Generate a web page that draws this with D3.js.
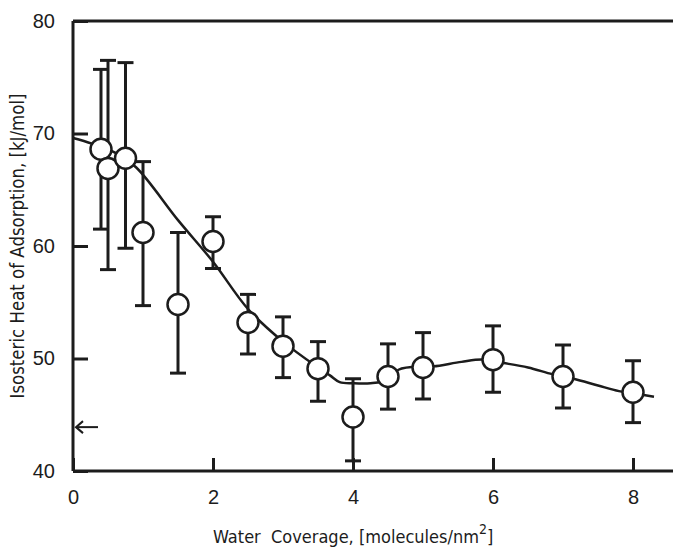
<!DOCTYPE html>
<html lang="en">
<head>
<meta charset="utf-8">
<title>isosteric heat</title>
<script src="https://d3js.org/d3.v7.min.js"></script>
<style>
  body{margin:0;background:#fff;}
  svg{font-family:"DejaVu Sans Condensed","DejaVu Sans",sans-serif;font-stretch:condensed;}
</style>
</head>
<body>
<div id="chart"></div>
<script>
// measured points: water coverage vs heat, with error bar ends
var coverage = [0.4, 0.5, 0.75, 1.0, 1.5, 2.0, 2.5, 3.0, 3.5, 4.0, 4.5, 5.0, 6.0, 7.0, 8.0]
var heat     = [68.6, 66.9, 67.8, 61.2, 54.8, 60.4, 53.2, 51.1, 49.1, 44.8, 48.4, 49.2, 49.9, 48.4, 47.0]
var errHigh  = [75.7, 76.5, 76.3, 67.5, 61.2, 62.6, 55.7, 53.7, 51.5, 48.2, 51.3, 52.3, 52.9, 51.2, 49.8]
var errLow   = [61.5, 57.9, 59.8, 54.7, 48.7, 58.0, 50.4, 48.3, 46.2, 40.9, 45.5, 46.4, 47.0, 45.6, 44.3]

// hand-drawn fit curve
var curveX = [0, 0.27, 0.6, 0.9, 1.5, 2.0, 2.5, 3.0, 3.5, 3.67, 3.81, 4.0, 4.25, 4.5, 4.65, 5.0, 5.15, 5.55, 5.85, 6.15, 6.5, 6.85, 7.15, 7.5, 7.8, 8.1, 8.3]
var curveY = [69.6, 69.1, 68.3, 67.0, 62.3, 58.6, 54.4, 51.5, 49.2, 48.5, 47.9, 47.8, 47.8, 48.1, 49.0, 49.3, 49.3, 49.7, 49.9, 49.6, 49.2, 48.6, 48.2, 47.6, 47.1, 46.8, 46.6]

var xTicks = [0, 2, 4, 6, 8]
var yTicks = [40, 50, 60, 70, 80]
var arrowValue = 43.9

var w = 673, h = 549
var ink = "#1c1c1c"
var xScale = d3.scaleLinear().domain([0, 8]).range([73, 633])
var yScale = d3.scaleLinear().domain([40, 80]).range([471, 21])

var svg = d3.select("#chart").append("svg").attr("width", w).attr("height", h)

// y axis, ticks pointing inward
var yAxis = svg.append("g")
  .attr("transform", "translate(" + xScale(0) + ",0)")
  .call(d3.axisLeft(yScale).tickValues(yTicks).tickSize(-15).tickSizeOuter(0).tickPadding(18))
yAxis.select(".domain").remove()
yAxis.selectAll("line").attr("stroke", ink).attr("stroke-width", 3)
yAxis.selectAll("text").attr("fill", ink).style("font-size", "20px")

var xAxis = svg.append("g")
  .attr("transform", "translate(0," + yScale(40) + ")")
  .call(d3.axisBottom(xScale).tickValues(xTicks).tickSize(-13).tickSizeOuter(0).tickPadding(19))
xAxis.select(".domain").remove()
xAxis.selectAll("line").attr("stroke", ink).attr("stroke-width", 3)
xAxis.selectAll("text").attr("fill", ink).style("font-size", "20px")

// frame: left, top and bottom lines (no right side)
svg.append("line").attr("x1", xScale(0)).attr("x2", xScale(0)).attr("y1", yScale(80)).attr("y2", yScale(40))
  .attr("stroke", ink).attr("stroke-width", 3)
svg.append("line").attr("x1", xScale(0)).attr("x2", w).attr("y1", yScale(80)).attr("y2", yScale(80))
  .attr("stroke", ink).attr("stroke-width", 3)
svg.append("line").attr("x1", xScale(0)).attr("x2", w).attr("y1", yScale(40)).attr("y2", yScale(40))
  .attr("stroke", ink).attr("stroke-width", 3)

// arrow pointing at the axis
var ay = yScale(arrowValue)
svg.append("line").attr("x1", xScale(0) + 3).attr("x2", xScale(0) + 25).attr("y1", ay).attr("y2", ay)
  .attr("stroke", ink).attr("stroke-width", 2)
svg.append("path")
  .attr("d", "M" + (xScale(0) + 10) + "," + (ay - 6) + "L" + (xScale(0) + 3) + "," + ay + "L" + (xScale(0) + 10) + "," + (ay + 6))
  .attr("fill", "none").attr("stroke", ink).attr("stroke-width", 2)

// fit curve
var line = d3.line()
  .x(function(d, i){ return xScale(d) })
  .y(function(d, i){ return yScale(curveY[i]) })
  .curve(d3.curveCatmullRom.alpha(0.5))
svg.append("path").datum(curveX).attr("d", line)
  .attr("fill", "none").attr("stroke", ink).attr("stroke-width", 2.5)

// error bars
var pts = coverage.map(function(c, i){
  return {x: c, y: heat[i], hi: errHigh[i], lo: errLow[i]}
})
var bars = svg.append("g").selectAll("g").data(pts).enter().append("g")
  .attr("stroke", ink).attr("stroke-width", 3)
bars.append("line")
  .attr("x1", function(d){ return xScale(d.x) }).attr("x2", function(d){ return xScale(d.x) })
  .attr("y1", function(d){ return yScale(d.hi) }).attr("y2", function(d){ return yScale(d.lo) })
bars.append("line")
  .attr("x1", function(d){ return xScale(d.x) - 8 }).attr("x2", function(d){ return xScale(d.x) + 8 })
  .attr("y1", function(d){ return yScale(d.hi) }).attr("y2", function(d){ return yScale(d.hi) })
bars.append("line")
  .attr("x1", function(d){ return xScale(d.x) - 8 }).attr("x2", function(d){ return xScale(d.x) + 8 })
  .attr("y1", function(d){ return yScale(d.lo) }).attr("y2", function(d){ return yScale(d.lo) })

svg.append("g").selectAll("circle").data(pts).enter().append("circle")
  .attr("cx", function(d){ return xScale(d.x) })
  .attr("cy", function(d){ return yScale(d.y) })
  .attr("r", 10.5)
  .attr("fill", "#fff").attr("stroke", ink).attr("stroke-width", 2.5)

// axis titles
svg.append("text")
  .attr("transform", "translate(24,246) rotate(-90)")
  .attr("text-anchor", "middle")
  .attr("fill", ink).style("font-size", "19px")
  .attr("textLength", 305).attr("lengthAdjust", "spacingAndGlyphs")
  .text("Isosteric Heat of Adsorption, [kJ/mol]")

var xt = svg.append("text")
  .attr("x", 213).attr("y", 543)
  .attr("fill", ink).style("font-size", "18px").style("white-space", "pre")
xt.append("tspan").text("Water  Coverage, [molecules/nm")
xt.append("tspan").attr("dy", -9).style("font-size", "14px").text("2")
xt.append("tspan").attr("dy", 9).text("]")
</script>
</body>
</html>
